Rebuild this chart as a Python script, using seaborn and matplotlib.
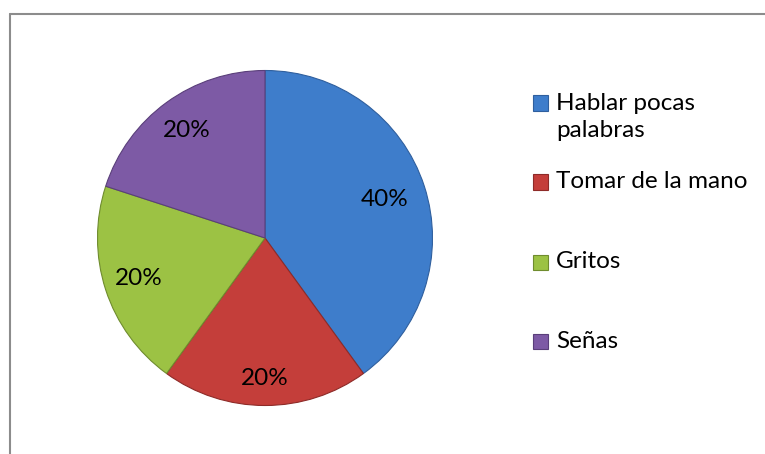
import matplotlib
matplotlib.use("Agg")
import matplotlib.pyplot as plt
from matplotlib.patches import Rectangle
from matplotlib.lines import Line2D
import seaborn as sns
import numpy as np

categories = ["Hablar pocas\npalabras", "Tomar de la mano", "Gritos", "Señas"]
values = [40, 20, 20, 20]
colors = ["#3E7DCB", "#C43E3A", "#9CC244", "#7D5AA5"]
edge_colors = ["#2F5F9E", "#8E2B28", "#6F8C2E", "#5A3F7A"]
label_dist = [0.75, 0.84, 0.79, 0.79]

sns.set_theme(style="white")
plt.rcParams["font.family"] = ["Lato", "DejaVu Sans"]

W, H = 765, 454
FS = 17.5
fig = plt.figure(figsize=(W / 100, H / 100), dpi=100)
fig.patch.set_facecolor("white")

cx, cy, r = 265, 238, 167.5
ax = fig.add_axes([(cx - r) / W, (H - cy - r) / H, 2 * r / W, 2 * r / H])
wedges, texts, autotexts = ax.pie(
    values, colors=colors, startangle=90, counterclock=False,
    autopct="%1.0f%%", pctdistance=0.8, radius=1,
    wedgeprops=dict(linewidth=0.8),
    textprops=dict(fontsize=FS, color="black"))
for w, ec, at, d in zip(wedges, edge_colors, autotexts, label_dist):
    w.set_edgecolor(ec)
    mid = np.deg2rad((w.theta1 + w.theta2) / 2)
    at.set_position((d * np.cos(mid), d * np.sin(mid)))
ax.set_xlim(-1, 1)
ax.set_ylim(-1, 1)
ax.set_aspect("equal")
ax.axis("off")

# frame
fc = "#8c8c8c"
fig.add_artist(Line2D([9.5 / W, 9.5 / W], [0, (H - 14) / H], color=fc, lw=1.5, transform=fig.transFigure))
fig.add_artist(Line2D([9.5 / W, 1.0], [(H - 14) / H, (H - 14) / H], color=fc, lw=1.5, transform=fig.transFigure))

# legend
legend_y = [117, 182, 262, 341]
for lab, col, ec, yy in zip(categories, colors, edge_colors, legend_y):
    sq_y = yy - 14 if "\n" in lab else yy
    fig.add_artist(Rectangle((533 / W, (H - sq_y - 7.5) / H), 15 / W, 15 / H,
                             facecolor=col, edgecolor=ec, lw=0.8, transform=fig.transFigure))
    fig.text(556 / W, (H - yy) / H, lab, fontsize=FS, va="center", ha="left",
             linespacing=1.38, color="black")

fig.savefig("out.png", dpi=100, facecolor="white")
